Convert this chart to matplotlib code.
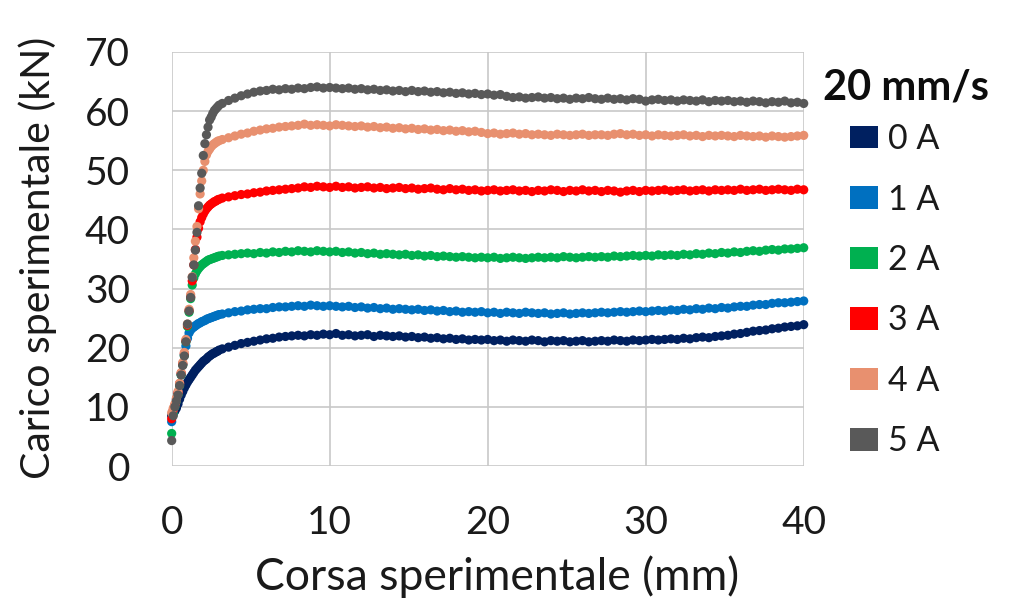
import numpy as np
import matplotlib
matplotlib.use("Agg")
import matplotlib.pyplot as plt
from matplotlib.patches import Patch

plt.rcParams['font.family'] = ['Lato', 'DejaVu Sans']

# Stroke (mm): fine sampling over the initial ramp, coarser over the plateau
x_ramp = np.round(np.arange(0.0, 3.01, 0.1), 1)
x_plateau = np.round(np.arange(3.2, 40.01, 0.4), 1)
stroke = np.concatenate([x_ramp, x_plateau])

# Load (kN) per coil current
load_0A = [
    8.5, 9.0, 9.3, 9.8, 10.5, 11.3, 12.0, 12.6, 13.2, 13.7, 14.2, 14.6, 15.0, 15.4, 15.8, 16.2,
    16.5, 16.8, 17.1, 17.4, 17.7, 17.9, 18.1, 18.4, 18.6, 18.8, 19.0, 19.1, 19.3, 19.4, 19.6,
    19.8, 20.1, 20.4, 20.7, 20.9, 21.1, 21.3, 21.5, 21.6, 21.8,
    21.9, 22.0, 22.1, 22.0, 22.2, 22.1, 22.3, 22.2, 22.4, 22.1,
    22.2, 22.0, 22.1, 22.2, 21.9, 22.1, 22.0, 21.9, 22.0, 21.8,
    21.9, 21.7, 21.8, 21.6, 21.7, 21.5, 21.6, 21.4, 21.5, 21.3,
    21.4, 21.3, 21.4, 21.2, 21.3, 21.1, 21.3, 21.2, 21.1, 21.3,
    21.2, 21.0, 21.2, 21.1, 21.2, 21.0, 21.1, 21.2, 21.0, 21.1,
    21.2, 21.1, 21.3, 21.2, 21.1, 21.3, 21.2, 21.3, 21.4, 21.3,
    21.4, 21.5, 21.4, 21.6, 21.5, 21.7, 21.8, 21.7, 21.9, 22.0,
    22.1, 22.3, 22.4, 22.6, 22.8, 22.9, 23.0, 23.2, 23.3, 23.5,
    23.6, 23.7, 23.9,
]
load_1A = [
    7.5, 9.3, 10.2, 11.2, 12.3, 13.8, 15.5, 17.2, 18.8, 20.3, 21.6, 22.5, 23.0, 23.3, 23.5, 23.7,
    23.9, 24.1, 24.2, 24.4, 24.5, 24.6, 24.8, 24.9, 25.0, 25.1, 25.2, 25.3, 25.4, 25.5, 25.6,
    25.7, 25.9, 26.1, 26.2, 26.4, 26.5, 26.6, 26.6, 26.8, 26.9,
    26.9, 27.0, 27.1, 27.0, 27.2, 27.1, 27.0, 27.1, 27.0, 26.9,
    27.0, 26.8, 26.9, 26.7, 26.8, 26.6, 26.7, 26.5, 26.6, 26.5,
    26.4, 26.5, 26.3, 26.4, 26.2, 26.3, 26.1, 26.2, 26.0, 26.1,
    26.0, 26.1, 25.9, 26.0, 25.8, 26.0, 25.9, 25.8, 26.0, 25.9,
    25.8, 25.9, 25.7, 25.8, 25.9, 25.7, 25.8, 25.9, 25.8, 25.9,
    26.0, 25.9, 26.0, 26.1, 26.0, 26.1, 26.2, 26.1, 26.2, 26.3,
    26.2, 26.4, 26.3, 26.5, 26.4, 26.6, 26.5, 26.7, 26.6, 26.8,
    26.7, 26.9, 27.0, 27.0, 27.2, 27.3, 27.3, 27.5, 27.6, 27.6,
    27.7, 27.8, 27.9,
]
load_2A = [
    5.5, 8.8, 10.0, 11.0, 12.1, 13.6, 15.4, 17.1, 18.7, 21.0, 23.6, 26.0, 28.3, 30.6, 31.8, 32.5,
    33.0, 33.4, 33.7, 34.0, 34.2, 34.4, 34.6, 34.8, 34.9, 35.0, 35.1, 35.2, 35.3, 35.4, 35.5,
    35.6, 35.7, 35.8, 35.9, 36.0, 35.9, 36.1, 36.0, 36.2, 36.1,
    36.3, 36.2, 36.4, 36.3, 36.2, 36.4, 36.3, 36.2, 36.3, 36.1,
    36.2, 36.0, 36.1, 35.9, 36.0, 35.8, 35.9, 35.8, 35.7, 35.8,
    35.6, 35.7, 35.5, 35.6, 35.4, 35.5, 35.4, 35.3, 35.4, 35.3,
    35.2, 35.3, 35.2, 35.3, 35.1, 35.2, 35.3, 35.2, 35.1, 35.2,
    35.3, 35.2, 35.3, 35.2, 35.4, 35.3, 35.2, 35.3, 35.4, 35.3,
    35.4, 35.3, 35.5, 35.4, 35.5, 35.6, 35.5, 35.6, 35.5, 35.7,
    35.6, 35.7, 35.6, 35.8, 35.7, 35.9, 35.8, 36.0, 35.9, 36.1,
    36.0, 36.2, 36.1, 36.3, 36.4, 36.3, 36.5, 36.6, 36.5, 36.7,
    36.7, 36.8, 36.9,
]
load_3A = [
    8.0, 9.5, 10.3, 11.3, 12.4, 13.9, 15.7, 17.3, 19.0, 21.2, 23.8, 26.3, 28.6, 31.3, 34.0, 36.6,
    38.7, 40.2, 41.3, 42.0, 42.6, 43.1, 43.5, 43.8, 44.1, 44.3, 44.5, 44.7, 44.8, 45.0, 45.1,
    45.3, 45.5, 45.7, 45.9, 46.0, 46.2, 46.3, 46.5, 46.6, 46.7,
    46.8, 46.9, 47.0, 47.2, 47.1, 47.3, 47.2, 47.1, 47.3, 47.1,
    47.2, 47.0, 47.1, 47.2, 47.0, 47.1, 46.9, 47.0, 47.1, 46.9,
    47.0, 46.8, 46.9, 47.0, 46.8, 46.7, 46.9, 46.7, 46.8, 46.6,
    46.7, 46.5, 46.6, 46.7, 46.5, 46.6, 46.7, 46.5, 46.6, 46.4,
    46.6, 46.5, 46.7, 46.6, 46.4, 46.6, 46.5, 46.7, 46.5, 46.6,
    46.4, 46.6, 46.5, 46.3, 46.5, 46.6, 46.4, 46.6, 46.5, 46.6,
    46.7, 46.5, 46.6, 46.7, 46.5, 46.6, 46.7, 46.5, 46.7, 46.6,
    46.7, 46.6, 46.8, 46.6, 46.7, 46.8, 46.6, 46.7, 46.8, 46.7,
    46.6, 46.8, 46.7,
]
load_4A = [
    9.0, 9.8, 10.5, 11.5, 12.6, 14.0, 15.8, 17.5, 19.2, 21.4, 24.0, 26.5, 29.0, 32.0, 35.2, 38.0,
    40.5, 43.5, 46.0, 48.2, 50.0, 51.5, 52.6, 53.2, 53.6, 54.0, 54.3, 54.5, 54.7, 54.9, 55.0,
    55.2, 55.5, 55.8, 56.1, 56.3, 56.6, 56.8, 57.0, 57.1, 57.3,
    57.4, 57.5, 57.6, 57.8, 57.6, 57.7, 57.6, 57.5, 57.7, 57.6,
    57.5, 57.4, 57.5, 57.3, 57.4, 57.2, 57.3, 57.1, 57.2, 57.0,
    57.1, 56.9, 57.0, 56.8, 56.9, 56.7, 56.8, 56.6, 56.7, 56.5,
    56.6, 56.4, 56.2, 56.3, 56.1, 56.2, 56.3, 56.1, 56.2, 56.0,
    56.1, 56.0, 55.9, 56.1, 56.0, 55.9, 56.0, 56.1, 55.9, 56.0,
    56.0, 55.9, 56.1, 56.2, 56.0, 56.1, 55.9, 56.0, 55.8, 56.0,
    55.9, 55.8, 55.9, 56.0, 55.8, 55.9, 55.7, 55.9, 55.8, 55.9,
    55.8, 55.7, 55.9, 55.8, 55.7, 55.8, 55.6, 55.8, 55.7, 55.6,
    55.7, 55.8, 55.9,
]
load_5A = [
    4.3, 8.5, 10.0, 11.0, 12.0, 13.6, 15.4, 17.0, 18.6, 21.0, 24.0, 26.2, 28.5, 31.9, 34.0, 36.5,
    39.5, 44.0, 47.0, 49.5, 52.5, 54.5, 56.0, 57.3, 58.5, 59.0, 59.6, 60.1, 60.4, 60.7, 61.0,
    61.3, 61.8, 62.2, 62.6, 62.9, 63.2, 63.4, 63.5, 63.7, 63.6,
    63.8, 63.7, 63.9, 63.8, 64.0, 64.1, 63.9, 64.0, 63.9, 63.8,
    63.9, 63.7, 63.8, 63.6, 63.7, 63.5, 63.6, 63.4, 63.5, 63.3,
    63.5, 63.3, 63.4, 63.2, 63.3, 63.1, 63.2, 63.0, 63.1, 62.9,
    63.0, 62.8, 62.9, 62.7, 62.8, 62.5, 62.3, 62.4, 62.2, 62.3,
    62.4, 62.2, 62.3, 62.1, 62.2, 62.0, 62.2, 62.1, 62.3, 62.1,
    62.0, 62.2, 62.0, 62.1, 61.9, 62.1, 62.0, 61.7, 61.9, 62.0,
    61.8, 61.9, 61.7, 61.9, 61.8, 61.7, 61.9, 61.6, 61.8, 61.7,
    61.8, 61.6, 61.7, 61.5, 61.7, 61.6, 61.4, 61.6, 61.5, 61.7,
    61.4, 61.5, 61.3,
]

series_labels = ["0 A", "1 A", "2 A", "3 A", "4 A", "5 A"]
series_loads = [load_0A, load_1A, load_2A, load_3A, load_4A, load_5A]
series_colors = ["#002060", "#0070C0", "#00B050", "#FF0000", "#E8906F", "#595959"]

x_ticks = [0, 10, 20, 30, 40]
y_ticks = [0, 10, 20, 30, 40, 50, 60, 70]

fig = plt.figure(figsize=(10.25, 6.01), dpi=100)
ax = fig.add_axes([0.1675, 0.2246, 0.6166, 0.6889])

for load, color in zip(series_loads, series_colors):
    ax.scatter(stroke, load, s=44, color=color, edgecolors="none", zorder=3, clip_on=False)

ax.set_xlim(0, 40)
ax.set_ylim(0, 70)
ax.set_xticks(x_ticks)
ax.set_yticks(y_ticks)
ax.grid(True, color="#c8c8c8", linewidth=1.2, zorder=0)
ax.set_axisbelow(True)
for sp in ax.spines.values():
    sp.set_visible(False)
ax.tick_params(axis="both", length=0, labelsize=28, colors="#1a1a1a")
ax.tick_params(axis="y", pad=30)
ax.tick_params(axis="x", pad=28)

ax.set_xlabel("Corsa sperimentale (mm)", fontsize=32, color="#1a1a1a")
ax.set_ylabel("Carico sperimentale (kN)", fontsize=29.5, color="#1a1a1a")
ax.xaxis.set_label_coords(0.515, -0.215)
ax.yaxis.set_label_coords(-0.181, 0.503)

handles = [Patch(facecolor=c, edgecolor="none") for c in series_colors]
ax.legend(handles, series_labels, loc="upper left", bbox_to_anchor=(0.829, 0.795),
          bbox_transform=fig.transFigure, frameon=False, fontsize=24.5,
          labelcolor="#1a1a1a", handlelength=0.83, handleheight=0.64,
          handletextpad=0.3, labelspacing=0.835, borderpad=0, borderaxespad=0)
fig.text(0.803, 0.855, "20 mm/s", fontsize=30, fontweight="bold", color="#0d0d0d",
         ha="left", va="center")

fig.savefig("out.png", dpi=100)
